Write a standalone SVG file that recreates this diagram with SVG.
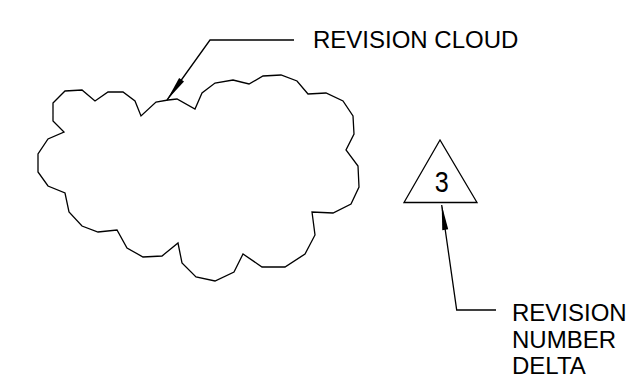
<svg xmlns="http://www.w3.org/2000/svg" width="631" height="383" viewBox="0 0 631 383">
<style>
.ln{fill:none;stroke:#000;stroke-width:1.3;stroke-linejoin:miter}
.tx{font-family:"Liberation Sans",Arial,sans-serif;font-size:24px;fill:#000}
</style>
<defs>
<marker id="ah" markerUnits="userSpaceOnUse" viewBox="-26 -4 27 8" markerWidth="27" markerHeight="8" refX="0" refY="0" orient="auto">
<path d="M0,0 L-25,-3 L-25,3 Z" fill="#000"/>
</marker>
</defs>
<rect width="631" height="383" fill="#fff"/>
<g id="cloud">
<polygon class="ln" points="53,103 65,91 82,90 95,101 108,92 123,92 135,101 141,116 156,102 168,100 177,99 195,109 202,93 215,83 233,80 249,84 263,76 281,75 297,81 308,94 326,93 343,101 353,116 354,134 346,150 358,166 359,187 351,204 333,213 312,212 315,235 305,254 285,267 262,267 243,254 234,272 215,281 196,277 182,263 178,243 162,256 143,257 127,248 117,230 98,232 82,226 69,212 65,193 48,186 38,172 38,154 48,139 64,132 53,121"/>
</g>
<g id="delta">
<polygon class="ln" points="440,140 404,202.5 477,202.5"/>
<text class="tx" font-size="30" text-anchor="middle" transform="translate(441.7,191.7) scale(0.84,1)" style="font-size:30px">3</text>
</g>
<g id="label-cloud">
<text class="tx" x="313" y="48">REVISION CLOUD</text>
</g>
<g id="label-delta">
<text class="tx" x="512" y="321">REVISION</text>
<text class="tx" x="512" y="347.5">NUMBER</text>
<text class="tx" x="512" y="374">DELTA</text>
</g>
<g id="connectors">
<polyline class="ln" points="294,40 210,40 167,100" marker-end="url(#ah)"/>
<polyline class="ln" points="496,310 456.7,310 441.7,205" marker-end="url(#ah)"/>
</g>
</svg>
